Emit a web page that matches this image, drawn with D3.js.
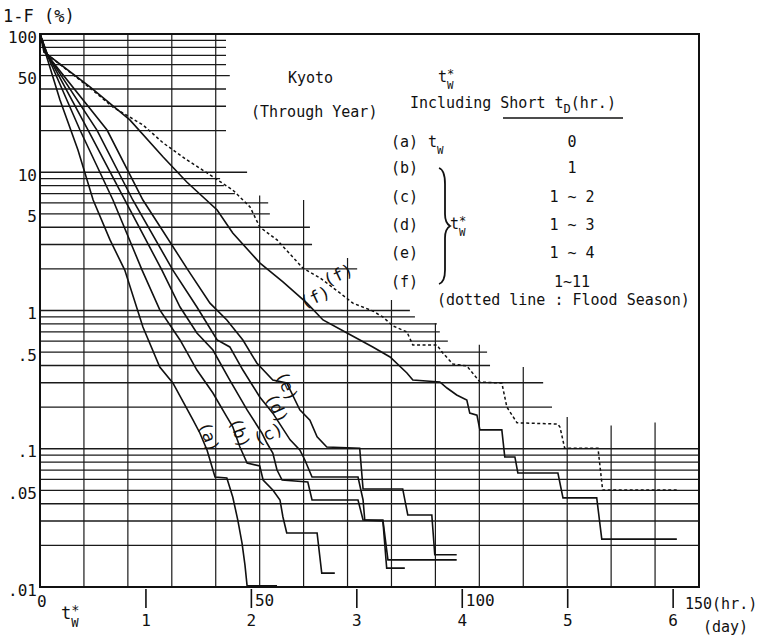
<!DOCTYPE html>
<html>
<head>
<meta charset="utf-8">
<script src="https://cdn.jsdelivr.net/npm/d3@7"></script>
<style>
  body { margin: 0; background: #fff; }
  text { font-family: 'DejaVu Sans Mono', monospace; fill: #111; }
</style>
</head>
<body>
<svg id="chart" width="759" height="637"></svg>
<script>
// exceedance curves, [hours, 1-F %]
const curveA = [[0,100],[0.95,79.2],[4.74,33.3],[9.0,14.5],[12.6,6.30],[16.6,3.24],[20.1,1.96],[24.4,0.760],[28.4,0.390],[31.5,0.299],[36.3,0.161],[37.9,0.130],[39.6,0.098],[41.5,0.0625],[44.3,0.0614],[45.7,0.0448],[46.9,0.0305],[47.9,0.0208],[48.6,0.0144],[49.1,0.0102],[56.2,0.0102]];
const curveB = [[0,100],[1.19,76.6],[9.48,20.2],[17.3,6.30],[24.2,1.96],[28.4,1.01],[33.2,0.612],[37.2,0.371],[41.0,0.253],[44.3,0.170],[45.7,0.144],[47.4,0.103],[49.1,0.0789],[52.1,0.0750],[52.9,0.0594],[55.2,0.0503],[56.9,0.0426],[57.6,0.0321],[58.5,0.0246],[65.7,0.0246],[66.8,0.0126],[69.9,0.0126]];
const curveC = [[0,100],[1.42,74.1],[11.4,20.2],[20.1,6.30],[28.9,1.96],[33.2,1.06],[37.2,0.688],[41.0,0.518],[45.0,0.314],[49.1,0.191],[52.6,0.130],[53.8,0.110],[55.2,0.0932],[56.2,0.0702],[57.4,0.0594],[63.5,0.0575],[64.5,0.0426],[75.4,0.0426],[76.6,0.0305],[81.3,0.0300],[82.2,0.0137],[86.5,0.0137]];
const curveD = [[0,100],[1.66,71.7],[13.5,20.2],[22.0,6.30],[31.5,1.96],[37.2,1.06],[42.0,0.612],[45.0,0.545],[48.1,0.371],[52.1,0.237],[55.2,0.181],[59.3,0.116],[61.6,0.098],[62.8,0.0829],[64.5,0.0625],[75.4,0.0625],[76.6,0.0426],[77.0,0.0305],[81.3,0.0305],[82.5,0.0157],[98.8,0.0157]];
const curveE = [[0,100],[1.9,69.3],[15.9,20.2],[24.4,6.30],[35.1,1.96],[40.3,1.13],[44.3,0.854],[48.1,0.612],[51.4,0.417],[55.2,0.314],[58.5,0.299],[61.6,0.191],[64.0,0.161],[65.7,0.122],[68.0,0.103],[75.8,0.101],[76.6,0.0512],[86.0,0.0512],[87.2,0.0332],[92.9,0.0332],[93.6,0.0171],[98.8,0.0171]];
const curveF = [[0,100],[0.95,74.1],[11.85,41.4],[21.3,23.9],[29.2,12.9],[34.8,8.50],[42.0,5.33],[45.7,3.64],[52.1,2.21],[57.6,1.61],[63.3,1.13],[67.1,0.854],[72.8,0.688],[78.9,0.545],[83.0,0.461],[87.0,0.353],[88.4,0.314],[94.8,0.304],[96.5,0.275],[98.8,0.245],[101.2,0.225],[101.9,0.181],[103.6,0.175],[104.3,0.137],[109.5,0.137],[110.2,0.0872],[112.6,0.0872],[113.3,0.0668],[122.8,0.0668],[124.0,0.0441],[132.0,0.0441],[133.2,0.0222],[151.0,0.0222]];
const curveFlood = [[0,100],[0.95,74.1],[11.85,40.7],[17.3,29.6],[24.4,22.0],[29.2,16.3],[34.8,12.3],[39.6,9.88],[45.7,7.44],[49.8,5.61],[52.1,4.02],[56.2,3.24],[62.3,2.03],[66.4,1.72],[71.1,1.34],[74.2,1.13],[78.9,0.992],[81.3,0.898],[83.7,0.773],[87.0,0.699],[88.4,0.563],[94.1,0.563],[95.5,0.493],[97.9,0.410],[101.2,0.397],[104.3,0.304],[109.5,0.299],[110.7,0.200],[113.1,0.154],[122.8,0.151],[123.3,0.143],[124.4,0.101],[132.3,0.101],[133.4,0.0503],[151.2,0.0503]];

// log paper lines (value %) and how far right each one runs (hours)
const hGridValues = [90,80,70,60,50,40,30,20,10,9,8,7,6,5,4,3,2,1,0.9,0.8,0.7,0.6,0.5,0.4,0.3,0.2,0.1,0.09,0.08,0.07,0.06,0.05,0.04,0.03,0.02];
const hGridEnds   = [44.1,44.1,44.1,44.1,45.0,44.1,44.1,44.1,49.1,42.7,43.6,46.2,54.1,54.5,64.0,64.5,75.2,87.7,88.9,94.1,94.8,96.7,106.0,106.7,119.3,121.4,156.25,156.25,156.25,156.25,156.25,156.25,156.25,156.25,156.25];
// vertical paper lines every 10 hr (in day units), and the % where each starts
const vGridDays = d3.range(1, 15).map(k => k * 10 / 24);
const vGridTops = [100,100,100,100,6.8,6.3,2.4,1.19,0.81,0.566,0.39,0.17,0.147,0.155];

const yTicks = [100,50,10,5,1,0.5,0.1,0.05,0.01];
const yTickLabels = ['100','50','10','5','1','.5','.1','.05','.01'];
const dayTicks = [1,2,3,4,5,6];
const hourTicks = [50,100];

const curveLabels = [
  {t:'(a)', h:40.1, v:0.122, rot:70},
  {t:'(b)', h:47.4, v:0.130, rot:70},
  {t:'(c)', h:54.1, v:0.128, rot:-25},
  {t:'(d)', h:56.2, v:0.197, rot:65},
  {t:'(e)', h:58.6, v:0.284, rot:65},
  {t:'(f)', h:65.2, v:1.25, rot:-25},
  {t:'(f)', h:70.7, v:1.81, rot:-25}
];

const svg = d3.select('#chart');
const x = d3.scaleLinear().domain([0, 156.25]).range([40, 699]);
const xDay = d3.scaleLinear().domain([0, 6.25]).range([40, 699]);
const y = d3.scaleLog().domain([0.01, 100]).range([587, 34]);

// paper grid
const grid = svg.append('g').attr('stroke', '#1a1a1a');
grid.selectAll('line.h').data(hGridValues).enter().append('line')
  .attr('x1', 40).attr('x2', (d, i) => x(hGridEnds[i]))
  .attr('y1', d => y(d)).attr('y2', d => y(d))
  .attr('stroke-width', 1.4);
grid.selectAll('line.v').data(vGridDays).enter().append('line')
  .attr('x1', d => xDay(d)).attr('x2', d => xDay(d))
  .attr('y1', (d, i) => y(vGridTops[i])).attr('y2', 587)
  .attr('stroke-width', 1.2);

// frame
svg.append('rect').attr('x', 40).attr('y', 34).attr('width', 659).attr('height', 553)
  .attr('fill', 'none').attr('stroke', '#111').attr('stroke-width', 2);

// curves
const line = d3.line().x(d => x(d[0])).y(d => y(d[1]));
svg.append('g').selectAll('path')
  .data([curveA, curveB, curveC, curveD, curveE, curveF])
  .enter().append('path')
  .attr('d', line).attr('fill', 'none').attr('stroke', '#111').attr('stroke-width', 1.6);
svg.append('path').datum(curveFlood)
  .attr('d', line).attr('fill', 'none').attr('stroke', '#111')
  .attr('stroke-width', 1.5).attr('stroke-dasharray', '3,2.5');

// curve labels
svg.append('g').selectAll('text').data(curveLabels).enter().append('text')
  .attr('transform', d => `translate(${x(d.h)},${y(d.v)}) rotate(${d.rot})`)
  .attr('text-anchor', 'middle').attr('dominant-baseline', 'central')
  .style('font-size', '17px').text(d => d.t);

// y axis labels
const yAxis = svg.append('g').attr('transform', 'translate(38,3)')
  .call(d3.axisLeft(y).tickValues(yTicks).tickSize(0).tickPadding(1)
    .tickFormat((d, i) => yTickLabels[i]));
yAxis.select('.domain').remove();
yAxis.selectAll('text').style('font-family', "'DejaVu Sans Mono', monospace")
  .style('font-size', '16px').attr('fill', '#111');

svg.append('text').attr('x', 3).attr('y', 22).style('font-size', '17px').text('1-F (%)');

// x axis: day ticks below frame
const xAxis = svg.append('g').attr('transform', 'translate(0,589)')
  .call(d3.axisBottom(xDay).tickValues(dayTicks).tickSize(19).tickPadding(7)
    .tickFormat(d3.format('d')));
xAxis.select('.domain').remove();
xAxis.selectAll('line').attr('stroke', '#111').attr('stroke-width', 1.6);
xAxis.selectAll('text').style('font-family', "'DejaVu Sans Mono', monospace")
  .style('font-size', '16px').attr('fill', '#111');

svg.selectAll('text.hr').data(hourTicks).enter().append('text')
  .attr('class', 'hr').attr('x', d => x(d) + 4).attr('y', 606)
  .style('font-size', '16px').text(d => d);
svg.append('text').attr('x', 685).attr('y', 609).style('font-size', '15px').text('150(hr.)');
svg.append('text').attr('x', 703).attr('y', 632).style('font-size', '15px').text('(day)');
svg.append('text').attr('x', 37).attr('y', 607).style('font-size', '16px').text('0');

// t with * above and W below, as one text element
function tw(g, x0, yb, fs) {
  const t = g.append('text').attr('x', x0).attr('y', yb).style('font-size', fs + 'px');
  t.append('tspan').text('t');
  t.append('tspan').attr('dy', -fs * 0.25).style('font-size', (fs * 0.8) + 'px').text('*');
  t.append('tspan').attr('dx', -fs * 0.8 * 0.6).attr('dy', fs * 0.7).style('font-size', (fs * 0.72) + 'px').text('W');
}
function tsub(g, x0, yb, fs, sub) {
  const t = g.append('text').attr('x', x0).attr('y', yb).style('font-size', fs + 'px');
  t.append('tspan').text('t');
  t.append('tspan').attr('dy', fs * 0.45).style('font-size', (fs * 0.72) + 'px').text(sub);
}

const ann = svg.append('g');
tw(ann, 61, 619, 17);

// legend block
ann.append('text').attr('x', 288).attr('y', 83).style('font-size', '15px').text('Kyoto');
ann.append('text').attr('x', 251).attr('y', 117).style('font-size', '15px').text('(Through Year)');
tw(ann, 438, 82, 15);
const inc = ann.append('text').attr('x', 410).attr('y', 108).style('font-size', '15px');
inc.append('tspan').text('Including Short t');
inc.append('tspan').attr('dy', 5).style('font-size', '12px').text('D');
inc.append('tspan').attr('dy', -5).text('(hr.)');
ann.append('line').attr('x1', 503).attr('x2', 623).attr('y1', 118).attr('y2', 118)
  .attr('stroke', '#111').attr('stroke-width', 1.4);

const rowKeys = ['(a)', '(b)', '(c)', '(d)', '(e)', '(f)'];
const rowVals = ['0', '1', '1 ~ 2', '1 ~ 3', '1 ~ 4', '1~11'];
const rowY = [147, 173, 202, 230, 258, 287];
rowKeys.forEach((k, i) => {
  ann.append('text').attr('x', 391).attr('y', rowY[i]).style('font-size', '15px').text(k);
  ann.append('text').attr('x', 572).attr('y', rowY[i]).attr('text-anchor', 'middle')
    .style('font-size', '15px').text(rowVals[i]);
});
tsub(ann, 428, 147, 15, 'W');
ann.append('path')
  .attr('d', 'M439,168 Q445,170 445,184 L445,214 Q445,223 450,226 Q445,229 445,238 L445,270 Q445,282 439,284')
  .attr('fill', 'none').attr('stroke', '#111').attr('stroke-width', 1.8);
tw(ann, 450, 229, 15);
ann.append('text').attr('x', 437).attr('y', 305).style('font-size', '15px')
  .text('(dotted line : Flood Season)');
</script>
</body>
</html>
